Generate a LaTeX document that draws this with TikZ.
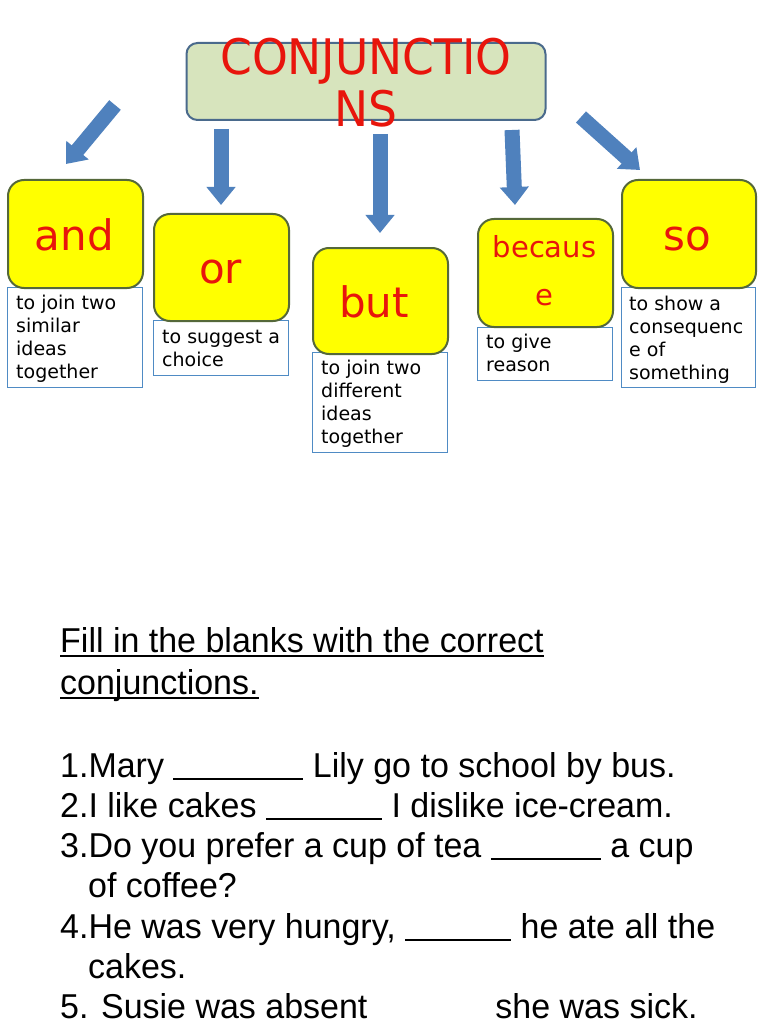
\documentclass[tikz,border=0pt]{standalone}
\usepackage{fontspec}
\setmainfont{DejaVu Sans}
\newfontfamily\titlefont[FakeStretch=0.93]{DejaVu Sans}
\newfontfamily\sheetfont[FakeStretch=0.985]{Liberation Sans}
\usetikzlibrary{arrows.meta}
\definecolor{titlefill}{HTML}{D7E4BD}
\definecolor{titleline}{HTML}{4A6A8C}
\definecolor{arrowblue}{HTML}{4F81BD}
\definecolor{ybox}{HTML}{FFFF00}
\definecolor{yline}{HTML}{55683A}
\definecolor{wordred}{HTML}{E8150C}
\definecolor{descline}{HTML}{4F8BC4}
\def\myul#1{\setbox0\hbox{#1}\rlap{\rule[-5pt]{\wd0}{1.8pt}}\box0}
\def\blank#1{\rule[-3pt]{#1pt}{2.4pt}}
\begin{document}
\begin{tikzpicture}[x=1pt,y=-1pt,
  titlebox/.style={draw=titleline, line width=2pt, fill=titlefill, rounded corners=11pt,
    minimum width=359pt, minimum height=77pt, inner sep=0pt},
  titletext/.style={text=wordred, align=center, inner sep=0pt, anchor=north,
    font=\titlefont\fontsize{49}{50}\selectfont},
  wordbox/.style={draw=yline, line width=2pt, fill=ybox, rounded corners=16pt,
    anchor=north west, inner sep=0pt, minimum width=135pt, minimum height=108pt},
  wordtext/.style={text=wordred, inner sep=0pt, anchor=base, font=\fontsize{42}{48}\selectfont},
  descbox/.style={draw=descline, line width=1pt, fill=white, anchor=north west,
    inner sep=0pt, minimum width=135pt, minimum height=100pt},
  desctext/.style={inner sep=0pt, anchor=north west, align=left,
    font=\fontsize{19}{23}\selectfont},
  bluearrow/.style={draw=arrowblue, line width=15pt,
    -{Triangle[width=28pt,length=18pt]}},
  sheet/.style={inner sep=0pt, anchor=base west, font=\sheetfont\fontsize{34.5}{40}\selectfont}
]
\useasboundingbox (0,0) rectangle (768,1024);
\fill[white] (0,0) rectangle (768,1024);

% title
\node[titlebox] (title) at (366,81.5) {};
\node[titletext] (titletxt) at (366,38) {\strut CONJUNCTIO\\NS};

% arrows
\coordinate (a1s) at (115,105); \coordinate (a1e) at (66,164);
\coordinate (a2s) at (221,129); \coordinate (a2e) at (221,205);
\coordinate (a3s) at (380,134); \coordinate (a3e) at (380,233);
\coordinate (a4s) at (512,130); \coordinate (a4e) at (515,205);
\coordinate (a5s) at (581,117); \coordinate (a5e) at (640,170);
\draw[bluearrow] (a1s) -- (a1e);
\draw[bluearrow] (a2s) -- (a2e);
\draw[bluearrow] (a3s) -- (a3e);
\draw[bluearrow] (a4s) -- (a4e);
\draw[bluearrow] (a5s) -- (a5e);

% description boxes
\node[descbox] (dand) at (7,287) {};
\node[descbox, minimum height=55pt] (dor) at (153,320) {};
\node[descbox] (dbut) at (312,352) {};
\node[descbox, minimum height=53pt] (dbec) at (477,327) {};
\node[descbox, minimum width=134pt] (dso) at (621,287) {};

\node[desctext] (tand) at (16,292.9) {\strut to join two\\similar\\ideas\\together};
\node[desctext] (tor) at (162,326.9) {\strut to suggest a\\choice};
\node[desctext] (tbut) at (321,357.9) {\strut to join two\\different\\ideas\\together};
\node[desctext] (tbec) at (486,331.9) {\strut to give\\reason};
\node[desctext] (tso) at (629,293.9) {\strut to show a\\consequenc\\e of\\something};

% word boxes
\node[wordbox] (band) at (7,179) {};
\node[wordbox, minimum height=107pt] (bor) at (153,213) {};
\node[wordbox, minimum height=106pt] (bbut) at (312,247) {};
\node[wordbox] (bbec) at (477,218) {};
\node[wordbox, minimum width=134pt] (bso) at (621,179) {};

\node[wordtext] (wand) at (74.5,250) {and};
\node[wordtext] (wor) at (220.5,283) {or};
\node[wordtext] (wbut) at (374,317) {but};
\node[text=wordred, inner sep=0pt, anchor=north, align=center,
  font=\fontsize{29}{48}\selectfont] (wbec) at (544.5,223.4) {\strut becaus\\e};
\node[wordtext] (wso) at (687,250) {so};

% exercise
\node[sheet] (head1) at (60,652) {\myul{Fill in the blanks with the correct}};
\node[sheet] (head2) at (60,694) {\myul{conjunctions.}};
\node[sheet] (q1) at (60,777) {1.Mary \blank{130} Lily go to school by bus.};
\node[sheet] (q2) at (60,817) {2.I like cakes \blank{116} I dislike ice-cream.};
\node[sheet] (q3) at (60,857) {3.Do you prefer a cup of tea \blank{110} a cup};
\node[sheet] (q3b) at (88,897) {of coffee?};
\node[sheet] (q4) at (60,938) {4.He was very hungry, \blank{106} he ate all the};
\node[sheet] (q4b) at (88,978) {cakes.};
\node[sheet] (q5) at (60,1018) {5. Susie was absent\hspace{128pt}she was sick.};
\end{tikzpicture}
\end{document}
